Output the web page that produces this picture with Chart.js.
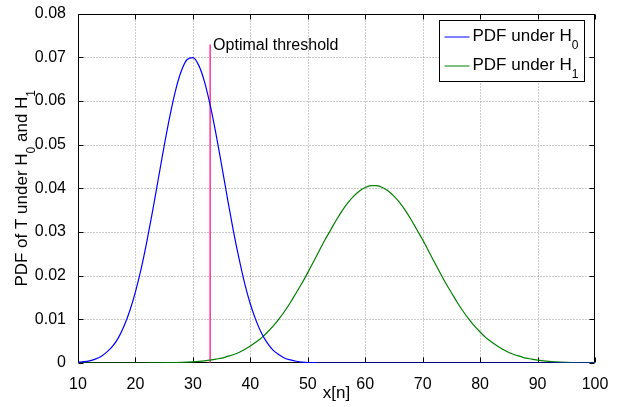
<!DOCTYPE html>
<html>
<head>
<meta charset="utf-8">
<script src="https://cdn.jsdelivr.net/npm/chart.js@4/dist/chart.umd.min.js"></script>
<style>
  html, body { margin: 0; padding: 0; background: #fff; }
  #wrap { width: 632px; height: 407px; }
</style>
</head>
<body>
<div id="wrap"><canvas id="myChart" width="632" height="407"></canvas></div>
<script>
// x[n] grid
const xValues = [10, 11, 12, 13, 14, 15, 16, 17, 18, 19,
    20, 21, 22, 23, 24, 25, 26, 27, 28, 29,
    30, 31, 32, 33, 34, 35, 36, 37, 38, 39,
    40, 41, 42, 43, 44, 45, 46, 47, 48, 49,
    50, 51, 52, 53, 54, 55, 56, 57, 58, 59,
    60, 61, 62, 63, 64, 65, 66, 67, 68, 69,
    70, 71, 72, 73, 74, 75, 76, 77, 78, 79,
    80, 81, 82, 83, 84, 85, 86, 87, 88, 89,
    90, 91, 92, 93, 94, 95, 96, 97, 98, 99, 100];

// PDF under H0
const pdfH0 = [0.0002, 0.0003, 0.0005, 0.0009, 0.0015, 0.0025, 0.0038, 0.0057, 0.0084, 0.0119,
    0.0163, 0.0216, 0.0279, 0.0349, 0.0423, 0.0497, 0.0566, 0.0625, 0.0669, 0.0695,
    0.0699, 0.0682, 0.0645, 0.0591, 0.0526, 0.0453, 0.0378, 0.0306, 0.0241, 0.0183,
    0.0135, 0.0097, 0.0067, 0.0045, 0.0029, 0.0019, 0.0011, 0.0007, 0.0004, 0.0002,
    0.0001, 0.0001, 0, 0, 0, 0, 0, 0, 0, 0,
    0, 0, 0, 0, 0, 0, 0, 0, 0, 0,
    0, 0, 0, 0, 0, 0, 0, 0, 0, 0,
    0, 0, 0, 0, 0, 0, 0, 0, 0, 0,
    0, 0, 0, 0, 0, 0, 0, 0, 0, 0, 0];

// PDF under H1
const pdfH1 = [0, 0, 0, 0, 0, 0, 0, 0, 0, 0,
    0, 0, 0, 0.00002, 0.00003, 0.00005, 0.00007, 0.00009, 0.00013, 0.00019,
    0.00026, 0.00035, 0.00048, 0.00065, 0.0009, 0.0011, 0.0015, 0.0019, 0.0024, 0.0031,
    0.0039, 0.0048, 0.0058, 0.0071, 0.0085, 0.0101, 0.0119, 0.0139, 0.0161, 0.0183,
    0.0207, 0.0232, 0.0257, 0.0282, 0.0305, 0.0328, 0.0349, 0.0367, 0.0382, 0.0394,
    0.0402, 0.0406, 0.0406, 0.0402, 0.0394, 0.0382, 0.0367, 0.0349, 0.0328, 0.0305,
    0.0282, 0.0257, 0.0232, 0.0207, 0.0183, 0.0161, 0.0139, 0.0119, 0.0101, 0.0085,
    0.0071, 0.0058, 0.0048, 0.0039, 0.0031, 0.0024, 0.0019, 0.0015, 0.0011, 0.0009,
    0.00065, 0.00048, 0.00035, 0.00026, 0.00019, 0.00013, 0.00009, 0.00007, 0.00005, 0.00003, 0.00002];

// Optimal threshold (vertical line)
const thresholdX = [33, 33];
const thresholdY = [0, 0.0729];

const xTicks = [10, 20, 30, 40, 50, 60, 70, 80, 90, 100];
const yTicks = [0, 0.01, 0.02, 0.03, 0.04, 0.05, 0.06, 0.07, 0.08];

const FONT = '"Liberation Sans", Arial, Helvetica, sans-serif';

function toPoints(xs, ys) {
    return xs.map((x, i) => ({x: x, y: ys[i]}));
}

// texte avec indices (H_0, H_1)
function richWidth(ctx, parts, size, subSize) {
    let w = 0;
    parts.forEach(p => {
        ctx.font = (p.sub ? subSize : size) + 'px ' + FONT;
        w += ctx.measureText(p.t).width;
    });
    return w;
}

function drawRich(ctx, parts, x, y, size, subSize, subDy) {
    parts.forEach(p => {
        ctx.font = (p.sub ? subSize : size) + 'px ' + FONT;
        ctx.fillText(p.t, x, p.sub ? y + subDy : y);
        x += ctx.measureText(p.t).width;
    });
}

const matlabFrame = {
    id: 'matlabFrame',
    beforeDatasetsDraw(chart) {
        const {ctx, chartArea: a, scales: {x, y}} = chart;
        const L = Math.round(a.left) + 0.5, R = Math.round(a.right) - 0.5;
        const T = Math.round(a.top) + 0.5, B = Math.round(a.bottom) - 0.5;
        ctx.save();
        ctx.lineWidth = 1;
        // grille pointillee
        ctx.strokeStyle = '#9a9a9a';
        ctx.setLineDash([1, 2]);
        xTicks.forEach(v => {
            if (v <= x.min || v >= x.max) return;
            const px = Math.round(x.getPixelForValue(v)) + 0.5;
            ctx.beginPath(); ctx.moveTo(px, T); ctx.lineTo(px, B); ctx.stroke();
        });
        yTicks.forEach(v => {
            if (v <= y.min || v >= y.max) return;
            const py = Math.round(y.getPixelForValue(v)) + 0.5;
            ctx.beginPath(); ctx.moveTo(L, py); ctx.lineTo(R, py); ctx.stroke();
        });
        ctx.setLineDash([]);
        // ticks vers l'interieur, sur les 4 cotes
        ctx.strokeStyle = '#000';
        const len = 5;
        xTicks.forEach(v => {
            const px = Math.round(x.getPixelForValue(v)) + 0.5;
            ctx.beginPath();
            ctx.moveTo(px, B); ctx.lineTo(px, B - len);
            ctx.moveTo(px, T); ctx.lineTo(px, T + len);
            ctx.stroke();
        });
        yTicks.forEach(v => {
            const py = Math.round(y.getPixelForValue(v)) + 0.5;
            ctx.beginPath();
            ctx.moveTo(L, py); ctx.lineTo(L + len, py);
            ctx.moveTo(R, py); ctx.lineTo(R - len, py);
            ctx.stroke();
        });
        ctx.strokeRect(L, T, R - L, B - T);
        ctx.restore();
    },
    afterDraw(chart) {
        const {ctx, chartArea: a, scales: {x, y}} = chart;
        ctx.save();
        ctx.fillStyle = '#000';
        ctx.textBaseline = 'alphabetic';
        ctx.textAlign = 'left';

        // annotation du seuil
        ctx.font = '16px ' + FONT;
        const tx = x.getPixelForValue(thresholdX[1]);
        const ty = y.getPixelForValue(thresholdY[1]);
        ctx.fillText('Optimal threshold', tx + 3, ty + 5);

        // titre axe x
        ctx.font = '17px ' + FONT;
        ctx.textAlign = 'center';
        ctx.fillText('x[n]', (a.left + a.right) / 2, 398);
        ctx.textAlign = 'left';

        // titre axe y (avec indices)
        const yTitle = [{t: 'PDF of T under H'}, {t: '0', sub: true}, {t: ' and H'}, {t: '1', sub: true}];
        const w = richWidth(ctx, yTitle, 17, 12);
        ctx.translate(27, (a.top + a.bottom) / 2);
        ctx.rotate(-Math.PI / 2);
        drawRich(ctx, yTitle, -w / 2, 0, 17, 12, 7.5);
        ctx.setTransform(1, 0, 0, 1, 0, 0);

        // legende
        const bx = Math.round(a.right) - 10.5, by = Math.round(a.top) + 6.5;
        const bw = 145, bh = 61;
        ctx.fillStyle = '#fff';
        ctx.fillRect(bx - bw, by, bw, bh);
        ctx.strokeStyle = '#000';
        ctx.lineWidth = 1;
        ctx.strokeRect(bx - bw, by, bw, bh);
        const rows = [
            {color: '#0000ff', parts: [{t: 'PDF under H'}, {t: '0', sub: true}]},
            {color: '#008000', parts: [{t: 'PDF under H'}, {t: '1', sub: true}]}
        ];
        rows.forEach((r, i) => {
            const ry = by + 16.5 + i * 29;
            ctx.strokeStyle = r.color;
            ctx.beginPath();
            ctx.moveTo(bx - bw + 5, ry); ctx.lineTo(bx - bw + 30, ry);
            ctx.stroke();
            ctx.fillStyle = '#000';
            drawRich(ctx, r.parts, bx - bw + 33, ry + 4, 17, 12, 7.7);
        });
        ctx.restore();
    }
};

const canvas = document.getElementById('myChart');
const ctx = canvas.getContext('2d');

const chart = new Chart(ctx, {
    type: 'line',
    data: {
        datasets: [{
            label: 'PDF under H0',
            data: toPoints(xValues, pdfH0),
            borderColor: '#0000ff',
            borderWidth: 1.2,
            pointRadius: 0,
            cubicInterpolationMode: 'monotone',
            fill: false
        }, {
            label: 'PDF under H1',
            data: toPoints(xValues, pdfH1),
            borderColor: '#008000',
            borderWidth: 1.2,
            pointRadius: 0,
            cubicInterpolationMode: 'monotone',
            fill: false
        }, {
            label: 'Optimal threshold',
            data: toPoints(thresholdX, thresholdY),
            borderColor: '#ff0080',
            borderWidth: 1.2,
            pointRadius: 0,
            fill: false
        }]
    },
    options: {
        responsive: false,
        animation: false,
        devicePixelRatio: 1,
        layout: {padding: {left: 0, top: 9, right: 37, bottom: 0}},
        plugins: {
            legend: {display: false},
            tooltip: {enabled: false}
        },
        scales: {
            x: {
                type: 'linear',
                min: 10,
                max: 100,
                afterFit: s => { s.height = 44; },
                afterBuildTicks: s => { s.ticks = xTicks.map(v => ({value: v})); },
                grid: {display: false},
                border: {display: false},
                ticks: {
                    color: '#000',
                    font: {family: FONT, size: 16},
                    padding: 4,
                    maxRotation: 0,
                    autoSkip: false
                }
            },
            y: {
                min: 0,
                max: 0.08,
                afterFit: s => { s.width = 78; },
                afterBuildTicks: s => { s.ticks = yTicks.map(v => ({value: v})); },
                grid: {display: false},
                border: {display: false},
                ticks: {
                    color: '#000',
                    font: {family: FONT, size: 16},
                    padding: 4,
                    autoSkip: false,
                    callback: v => v === 0 ? '0' : v.toFixed(2)
                }
            }
        }
    },
    plugins: [matlabFrame]
});
</script>
</body>
</html>
